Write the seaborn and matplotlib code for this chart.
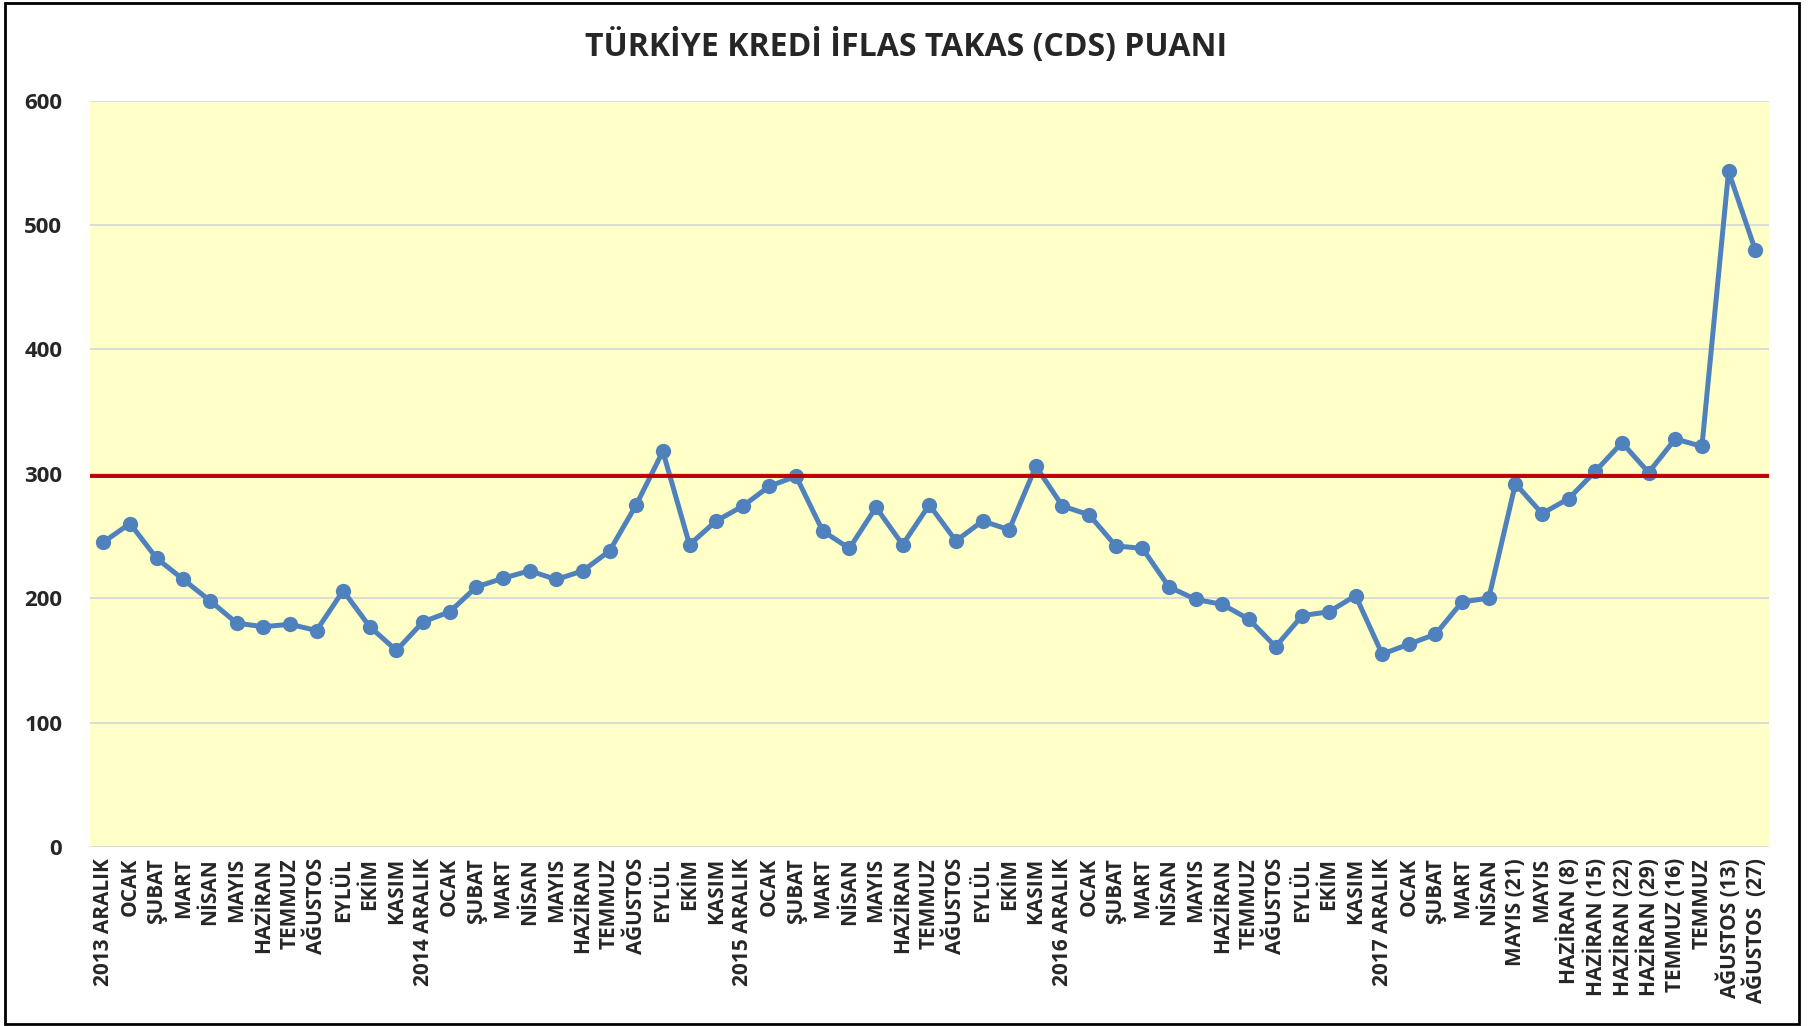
import matplotlib

matplotlib.use("Agg")

import matplotlib.pyplot as plt
import pandas as pd
import seaborn as sns
from matplotlib.patches import Rectangle

# ==========================================
# Data
# ==========================================

labels = [
    "2013 ARALIK", "OCAK", "ŞUBAT", "MART", "NİSAN", "MAYIS", "HAZİRAN",
    "TEMMUZ", "AĞUSTOS", "EYLÜL", "EKİM", "KASIM",
    "2014 ARALIK", "OCAK", "ŞUBAT", "MART", "NİSAN", "MAYIS", "HAZİRAN",
    "TEMMUZ", "AĞUSTOS", "EYLÜL", "EKİM", "KASIM",
    "2015 ARALIK", "OCAK", "ŞUBAT", "MART", "NİSAN", "MAYIS", "HAZİRAN",
    "TEMMUZ", "AĞUSTOS", "EYLÜL", "EKİM", "KASIM",
    "2016 ARALIK", "OCAK", "ŞUBAT", "MART", "NİSAN", "MAYIS", "HAZİRAN",
    "TEMMUZ", "AĞUSTOS", "EYLÜL", "EKİM", "KASIM",
    "2017 ARALIK", "OCAK", "ŞUBAT", "MART", "NİSAN", "MAYIS (21)", "MAYIS",
    "HAZİRAN (8)", "HAZİRAN (15)", "HAZİRAN (22)", "HAZİRAN (29)",
    "TEMMUZ (16)", "TEMMUZ", "AĞUSTOS (13)", "AĞUSTOS  (27)",
]

cds = [
    245, 260, 232, 215, 198, 180, 177, 179, 174, 206, 177, 158,
    181, 189, 209, 216, 222, 215, 222, 238, 275, 318, 243, 262,
    274, 290, 298, 254, 240, 273, 243, 275, 246, 262, 255, 306,
    274, 267, 242, 240, 209, 199, 195, 183, 161, 186, 189, 202,
    155, 163, 171, 197, 200, 292, 268, 280, 302, 325, 301, 328,
    322, 543, 480,
]

threshold = 298

y_ticks = [0, 100, 200, 300, 400, 500, 600]


def main():

    # ==========================================
    # Style
    # ==========================================

    sns.set_style("white")
    plt.rcParams["font.family"] = ["Open Sans", "DejaVu Sans"]

    df = pd.DataFrame({
        "idx": range(len(cds)),
        "cds": cds,
    })

    fig = plt.figure(figsize=(18.12, 10.26), dpi=100)
    ax = fig.add_axes([0.0497, 0.1745, 0.9263, 0.7275])

    ax.set_facecolor("#FFFFC8")

    # ==========================================
    # Plot
    # ==========================================

    sns.lineplot(
        data=df,
        x="idx",
        y="cds",
        ax=ax,
        color="#4F81BD",
        linewidth=3.6,
        marker="o",
        markersize=11,
        markeredgewidth=0,
        zorder=4,
    )

    ax.axhline(threshold, color="#C00000", linewidth=2.8, zorder=5)

    ax.set_xlim(-0.5, len(cds) - 0.5)
    ax.set_ylim(0, 600)

    ax.set_yticks(y_ticks)
    ax.set_yticklabels(
        [str(t) for t in y_ticks], fontsize=16, fontweight="bold"
    )

    ax.set_xticks(range(len(labels)))
    ax.set_xticklabels(
        labels, rotation=90, fontsize=15, fontweight="bold"
    )

    ax.tick_params(axis="x", length=0, pad=8)
    ax.tick_params(axis="y", length=0, pad=20)

    ax.yaxis.grid(True, color="#D9D9D9", linewidth=1.3, zorder=0)
    ax.xaxis.grid(False)
    ax.set_axisbelow(True)

    for spine in ax.spines.values():
        spine.set_visible(False)

    ax.set_xlabel("")
    ax.set_ylabel("")

    fig.text(
        0.5, 0.955,
        "TÜRKİYE KREDİ İFLAS TAKAS (CDS) PUANI",
        ha="center", va="center",
        fontsize=23, fontweight="bold",
    )

    # Frame round the whole picture
    fig.patches.append(
        Rectangle(
            (0.003, 0.002), 0.990, 0.995,
            transform=fig.transFigure,
            fill=False, edgecolor="black", linewidth=2,
        )
    )

    fig.savefig("out.png", dpi=100)
    plt.close(fig)


if __name__ == "__main__":
    main()
